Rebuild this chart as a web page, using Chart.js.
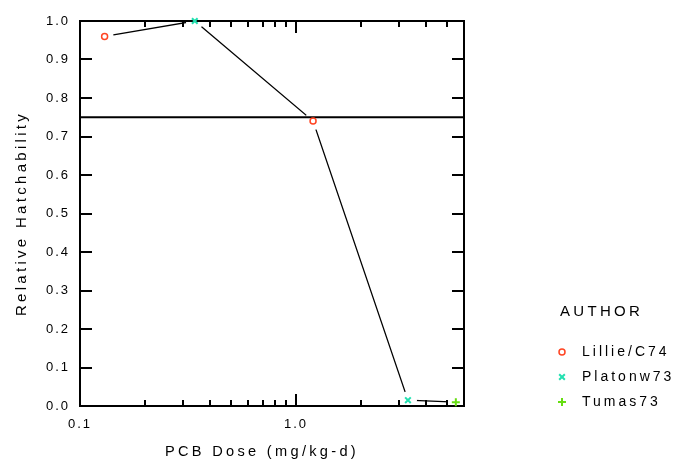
<!DOCTYPE html>
<html>
<head>
<meta charset="utf-8">
<script src="https://cdn.jsdelivr.net/npm/chart.js@4.4.1/dist/chart.umd.min.js"></script>
<style>
  html, body { margin: 0; padding: 0; background: #ffffff; }
  #wrap { width: 682px; height: 468px; }
</style>
</head>
<body>
<div id="wrap"><canvas id="c" width="682" height="468"></canvas></div>
<script>
// ---- data ----
const authors = ['Lillie/C74', 'Platonw73', 'Tumas73'];
const lillieDose = [0.13, 1.2];
const lillieHatch = [0.96, 0.74];
const platonDose = [0.34, 3.3];
const platonHatch = [1.0, 0.015];
const tumasDose = [5.5];
const tumasHatch = [0.01];
const referenceLevel = 0.75;
const xRange = [0.1, 6];
const yRange = [0, 1];
const yTickValues = [0, 0.1, 0.2, 0.3, 0.4, 0.5, 0.6, 0.7, 0.8, 0.9, 1.0];
const xLabelValues = [0.1, 1.0];
const xMinorValues = [0.2, 0.3, 0.4, 0.5, 0.6, 0.7, 0.8, 0.9, 2, 3, 4, 5];
const xTitle = 'PCB Dose (mg/kg-d)';
const yTitle = 'Relative Hatchability';
const legendTitle = 'AUTHOR';

// ---- build points ----
const toPts = (xs, ys) => xs.map((v, i) => ({ x: v, y: ys[i] }));
const lilliePts = toPts(lillieDose, lillieHatch);
const platonPts = toPts(platonDose, platonHatch);
const tumasPts = toPts(tumasDose, tumasHatch);
const allPts = [...lilliePts, ...platonPts, ...tumasPts].sort((a, b) => a.x - b.x);
const refPts = [{ x: xRange[0], y: referenceLevel }, { x: xRange[1], y: referenceLevel }];

const colors = ['#ff4422', '#22e0b0', '#66dd11'];
const FONT = '"Liberation Sans", Arial, Helvetica, sans-serif';

// wide letter spacing like the original bitmap font
const spacingPlugin = {
  id: 'spacing',
  beforeDraw(chart) {
    const ctx = chart.ctx;
    if (ctx.__spaced) return;
    const orig = ctx.fillText;
    ctx.fillText = function () {
      const m = /(\d+(?:\.\d+)?)px/.exec(this.font);
      const size = m ? parseFloat(m[1]) : 13;
      this.letterSpacing = size <= 13 ? '2px' : (size < 14.5 ? '3px' : '3.3px');
      return orig.apply(this, arguments);
    };
    ctx.__spaced = true;
  }
};

const HALO_INDEX = 4;
const framePlugin = {
  id: 'frame',
  afterDatasetDraw(chart, args) {
    if (args.index !== HALO_INDEX) return;
    const { ctx, chartArea: a, scales: { x, y } } = chart;
    ctx.save();
    ctx.strokeStyle = '#000';
    ctx.lineWidth = 2;
    ctx.beginPath();
    ctx.rect(a.left, a.top, a.right - a.left, a.bottom - a.top);
    yTickValues.forEach(v => {
      const py = Math.round(y.getPixelForValue(v));
      ctx.moveTo(a.left, py); ctx.lineTo(a.left + 12, py);
      ctx.moveTo(a.right, py); ctx.lineTo(a.right - 12, py);
    });
    xLabelValues.forEach(v => {
      const px = Math.round(x.getPixelForValue(v));
      ctx.moveTo(px, a.bottom); ctx.lineTo(px, a.bottom - 12);
      ctx.moveTo(px, a.top); ctx.lineTo(px, a.top + 12);
    });
    xMinorValues.forEach(v => {
      const px = Math.round(x.getPixelForValue(v));
      ctx.moveTo(px, a.bottom); ctx.lineTo(px, a.bottom - 6);
      ctx.moveTo(px, a.top); ctx.lineTo(px, a.top + 6);
    });
    ctx.stroke();
    ctx.restore();
  }
};

const legendPlugin = {
  id: 'authorLegend',
  afterDraw(chart) {
    const ctx = chart.ctx;
    const a = chart.chartArea;
    ctx.save();
    ctx.textBaseline = 'middle';
    ctx.textAlign = 'center';
    ctx.fillStyle = '#000';
    // x-axis title
    ctx.font = '14.6px ' + FONT;
    ctx.fillText(xTitle, 262, 452);
    // legend
    ctx.textAlign = 'left';
    ctx.font = '15px ' + FONT;
    const lx = a.right + 96;
    ctx.fillText(legendTitle, lx, 312);
    ctx.font = '14px ' + FONT;
    authors.forEach((name, i) => {
      const ds = chart.data.datasets[i];
      const yy = 352 + i * 25;
      ctx.strokeStyle = colors[i];
      ctx.fillStyle = 'rgba(0,0,0,0)';
      ctx.lineWidth = ds.borderWidth;
      Chart.helpers.drawPoint(ctx, {
        pointStyle: ds.pointStyle, radius: ds.pointRadius, borderWidth: ds.borderWidth, rotation: 0
      }, lx + 2, yy);
      ctx.fillStyle = '#000';
      ctx.fillText(name, lx + 22, yy);
    });
    ctx.restore();
  }
};

const markerDs = (label, data, i, style, r, w) => ({
  label, data, showLine: false,
  pointStyle: style, pointRadius: r, pointHoverRadius: r,
  borderColor: colors[i], backgroundColor: 'rgba(0,0,0,0)', borderWidth: w,
  clip: false
});

new Chart(document.getElementById('c'), {
  type: 'scatter',
  data: {
    datasets: [
      markerDs(authors[0], lilliePts, 0, 'circle', 3, 1.5),
      markerDs(authors[1], platonPts, 1, 'crossRot', 4, 2),
      markerDs(authors[2], tumasPts, 2, 'cross', 4, 2),
      { label: 'ref', data: refPts, showLine: true, borderColor: '#000', borderWidth: 2, pointRadius: 0, clip: false },
      { label: 'halo', data: allPts, showLine: false, pointRadius: 9, backgroundColor: '#fff', borderWidth: 0, clip: false },
      { label: 'fit', data: allPts, showLine: true, borderColor: '#000', borderWidth: 1.3, pointRadius: 0, tension: 0 }
    ]
  },
  options: {
    responsive: false,
    devicePixelRatio: 1,
    animation: false,
    events: [],
    layout: { padding: { left: 0, top: 21, right: 218, bottom: 0 } },
    plugins: { legend: { display: false }, tooltip: { enabled: false } },
    scales: {
      x: {
        type: 'logarithmic', min: xRange[0], max: xRange[1],
        grid: { display: false, drawTicks: false }, border: { display: false },
        afterBuildTicks: s => { s.ticks = xLabelValues.map(v => ({ value: v })); },
        afterFit: s => { s.height = 62; },
        ticks: { autoSkip: false, maxRotation: 0, padding: 11, color: '#000',
          font: { family: FONT, size: 13 }, callback: v => Number(v).toFixed(1) },
        title: { display: false, text: xTitle }
      },
      y: {
        min: yRange[0], max: yRange[1],
        grid: { display: false, drawTicks: false }, border: { display: false },
        afterBuildTicks: s => { s.ticks = yTickValues.map(v => ({ value: v })); },
        afterFit: s => { s.width = 80; },
        ticks: { autoSkip: false, padding: 10, color: '#000',
          font: { family: FONT, size: 13 }, callback: v => Number(v).toFixed(1) },
        title: { display: true, text: yTitle, color: '#000', font: { family: FONT, size: 15 },
          padding: { top: 13, bottom: 0 } }
      }
    }
  },
  plugins: [spacingPlugin, framePlugin, legendPlugin]
});
</script>
</body>
</html>
